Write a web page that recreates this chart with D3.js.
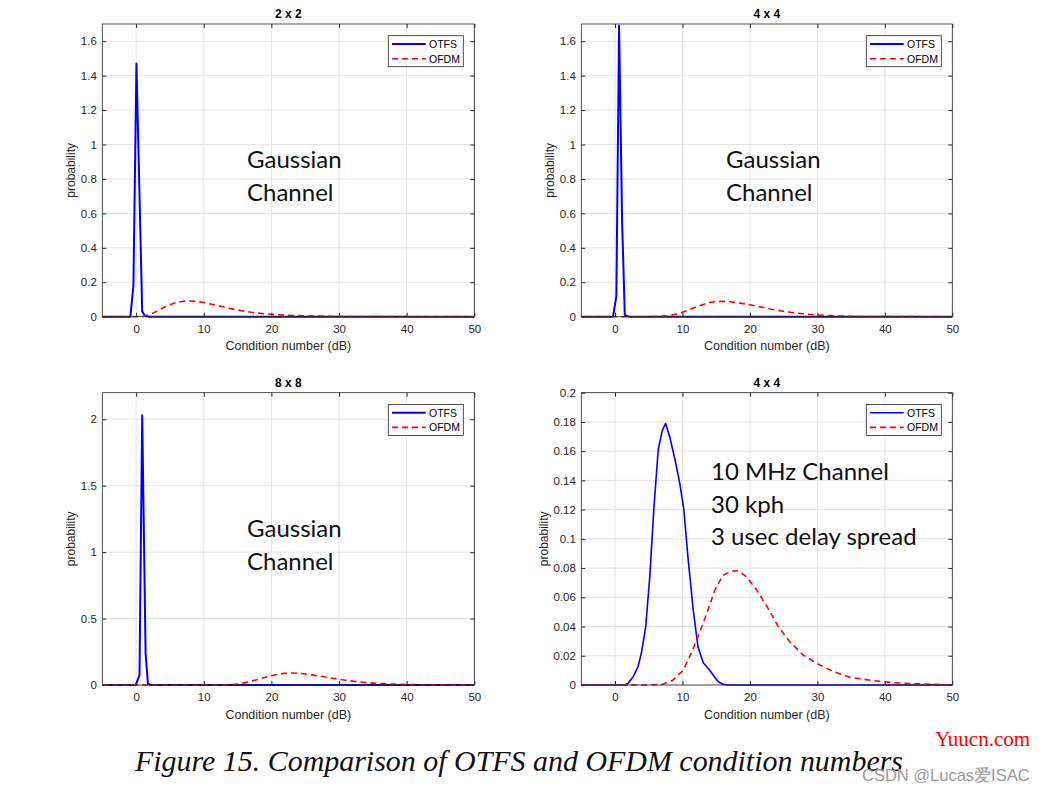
<!DOCTYPE html>
<html><head><meta charset="utf-8">
<script src="https://cdn.jsdelivr.net/npm/d3@7"></script>
<style>body{margin:0;background:#fff}svg{display:block}</style>
</head><body>
<svg id="c" width="1044" height="793"></svg>
<script>
// ---- data ----
const xTicks = [0, 10, 20, 30, 40, 50];
const panelTitles = ["2 x 2", "4 x 4", "8 x 8", "4 x 4"];
const seriesNames = ["OTFS", "OFDM"];

const otfs2x2 = [[-5,0],[-0.85,0],[-0.4,0.18],[0.05,1.47],[0.9,0.03],[1.35,0.004],[2,0],[50,0]];
const ofdm2x2 = [[-5,0],[0,0],[1,0.002],[2,0.012],[3,0.03],[4,0.052],[5,0.07],[6,0.083],[7,0.09],[8,0.091],[9,0.088],[10,0.082],[11,0.074],[12,0.065],[13,0.056],[14,0.047],[15,0.039],[16,0.032],[17,0.026],[18,0.021],[19,0.017],[20,0.014],[22,0.009],[24,0.006],[26,0.004],[28,0.0025],[30,0.0015],[35,0.0005],[40,0.0001],[50,0]];

const otfs4x4 = [[-5,0],[-0.3,0],[0.2,0.12],[0.6,1.69],[1.05,0.55],[1.45,0.01],[2,0],[50,0]];
const ofdm4x4 = [[-5,0],[5,0],[6,0.0005],[7,0.002],[8,0.006],[9,0.014],[10,0.026],[11,0.041],[12,0.056],[13,0.07],[14,0.082],[15,0.088],[16,0.089],[17,0.087],[18,0.082],[19,0.076],[20,0.069],[21,0.061],[22,0.053],[23,0.045],[24,0.038],[25,0.032],[26,0.026],[27,0.021],[28,0.017],[29,0.013],[30,0.01],[32,0.006],[34,0.003],[36,0.0015],[40,0.0003],[50,0]];

const otfs8x8 = [[-5,0],[-0.1,0],[0.1,0.02],[0.5,0.075],[0.9,2.03],[1.4,0.24],[1.75,0.01],[2.2,0],[50,0]];
const ofdm8x8 = [[-5,0],[12,0],[13,0.001],[14,0.003],[15,0.008],[16,0.016],[17,0.028],[18,0.042],[19,0.057],[20,0.07],[21,0.081],[22,0.088],[23,0.09],[24,0.088],[25,0.083],[26,0.076],[27,0.068],[28,0.06],[29,0.051],[30,0.043],[31,0.036],[32,0.029],[33,0.023],[34,0.018],[35,0.014],[36,0.011],[38,0.0065],[40,0.0038],[42,0.002],[45,0.0008],[50,0]];

const otfsMob = [[-5,0],[1.4,0],[1.9,0.001],[2.7,0.0057],[3.4,0.0125],[3.9,0.0217],[4.55,0.04],[5.15,0.074],[5.75,0.12],[6.4,0.161],[7.0,0.174],[7.5,0.179],[8.1,0.17],[8.9,0.154],[9.6,0.138],[10.2,0.12],[10.8,0.088],[11.6,0.051],[12.3,0.026],[13.1,0.015],[13.8,0.0114],[14.55,0.0068],[15.3,0.0023],[16,0.0005],[16.7,0],[50,0]];
const ofdmMob = [[-5,0],[5.1,0],[7.1,0.0005],[8.6,0.0034],[10.1,0.01],[11.3,0.0217],[12.3,0.033],[13.6,0.049],[14.8,0.065],[16,0.075],[17.3,0.078],[18.3,0.078],[19.5,0.074],[21,0.065],[22.5,0.054],[24.2,0.04],[25.9,0.0296],[27.9,0.0205],[29.9,0.0148],[32.4,0.0091],[34.9,0.0052],[38.3,0.003],[41.3,0.0016],[44.3,0.0009],[48.2,0.0003],[50,0]];

const yTicksA = [0,0.2,0.4,0.6,0.8,1,1.2,1.4,1.6];
const yTicksC = [0,0.5,1,1.5,2];
const yTicksD = [0,0.02,0.04,0.06,0.08,0.1,0.12,0.14,0.16,0.18,0.2];

const noteGauss = ["Gaussian", "Channel"];
const noteMob = ["10 MHz Channel", "30 kph", "3 usec delay spread"];
const caption = "Figure 15. Comparison of OTFS and OFDM condition numbers";

// ---- layout ----
const svg = d3.select("#c");
const axisCol = "#262626";
const panels = [
  {title: panelTitles[0], otfs: otfs2x2, ofdm: ofdm2x2, ymax: 1.7, yt: yTicksA, x0: 102.3, x1: 474.3, y0: 24, y1: 316.7, note: noteGauss, nx: 247, ny: 168, lw: 2, ylx: 71},
  {title: panelTitles[1], otfs: otfs4x4, ofdm: ofdm4x4, ymax: 1.7, yt: yTicksA, x0: 581.3, x1: 952.3, y0: 24, y1: 316.7, note: noteGauss, nx: 726, ny: 168, lw: 2, ylx: 550},
  {title: panelTitles[2], otfs: otfs8x8, ofdm: ofdm8x8, ymax: 2.2, yt: yTicksC, x0: 102.3, x1: 474.3, y0: 392.7, y1: 685, note: noteGauss, nx: 247, ny: 537, lw: 2, ylx: 71},
  {title: panelTitles[3], otfs: otfsMob, ofdm: ofdmMob, ymax: 0.2, yt: yTicksD, x0: 581.3, x1: 952.3, y0: 392.7, y1: 685, note: noteMob, nx: 711, ny: 480, lw: 1.6, ylx: 544}
];

const fmt = d => String(+d.toFixed(2));

panels.forEach(p => {
  const x = d3.scaleLinear().domain([-5, 50]).range([p.x0, p.x1]);
  const y = d3.scaleLinear().domain([0, p.ymax]).range([p.y1, p.y0]);
  const g = svg.append("g");
  const W = p.x1 - p.x0, H = p.y1 - p.y0;

  // grid
  g.append("g").selectAll("line").data(xTicks).join("line")
    .attr("x1", d => x(d)).attr("x2", d => x(d)).attr("y1", p.y0).attr("y2", p.y1)
    .attr("stroke", "#e3e3e3").attr("stroke-width", 1);
  g.append("g").selectAll("line").data(p.yt).join("line")
    .attr("y1", d => y(d)).attr("y2", d => y(d)).attr("x1", p.x0).attr("x2", p.x1)
    .attr("stroke", "#e3e3e3").attr("stroke-width", 1);

  // axes with inward ticks
  const ax = d3.axisBottom(x).tickValues(xTicks).tickSize(-4).tickPadding(8).tickFormat(d3.format("d"));
  const axT = d3.axisTop(x).tickValues(xTicks).tickSize(-4).tickFormat("");
  const ay = d3.axisLeft(y).tickValues(p.yt).tickSize(-4).tickPadding(5.5).tickFormat(fmt);
  const ayR = d3.axisRight(y).tickValues(p.yt).tickSize(-4).tickFormat("");
  const styleAxis = sel => {
    sel.selectAll(".domain").remove();
    sel.selectAll("line").attr("stroke", axisCol);
    sel.selectAll("text").attr("fill", axisCol).attr("font-size", 11.5).attr("font-family", "Liberation Sans, Arial, sans-serif");
  };
  g.append("g").attr("transform", `translate(0,${p.y1})`).call(ax).call(styleAxis);
  g.append("g").attr("transform", `translate(0,${p.y0})`).call(axT).call(styleAxis);
  g.append("g").attr("transform", `translate(${p.x0},0)`).call(ay).call(styleAxis);
  g.append("g").attr("transform", `translate(${p.x1},0)`).call(ayR).call(styleAxis);

  // lines
  const clipId = ("clip" + p.x0 + "_" + p.y0).replace(/\./g, "_");
  svg.append("clipPath").attr("id", clipId).append("rect")
    .attr("x", p.x0).attr("y", p.y0 - 2).attr("width", W).attr("height", H + 4);
  const line = d3.line().x(d => x(d[0])).y(d => y(d[1]));
  const lg = g.append("g").attr("clip-path", `url(#${clipId})`);
  lg.append("path").attr("d", line(p.otfs)).attr("fill", "none").attr("stroke", "#0000ff")
    .attr("stroke-width", p.lw).attr("stroke-linejoin", "round");
  lg.append("path").attr("d", line(p.ofdm)).attr("fill", "none").attr("stroke", "#ff0000")
    .attr("stroke-width", 1.6).attr("stroke-dasharray", "6,4");

  // box
  g.append("rect").attr("x", p.x0).attr("y", p.y0).attr("width", W).attr("height", H)
    .attr("fill", "none").attr("stroke", axisCol).attr("stroke-width", 0.8);

  // title
  g.append("text").attr("x", (p.x0 + p.x1) / 2).attr("y", p.y0 - 6).attr("text-anchor", "middle")
    .attr("font-family", "Liberation Sans, Arial, sans-serif").attr("font-weight", "bold").attr("font-size", 12)
    .attr("fill", "#000").text(p.title);
  // x label
  g.append("text").attr("x", (p.x0 + p.x1) / 2).attr("y", p.y1 + 33.5).attr("text-anchor", "middle")
    .attr("font-family", "Liberation Sans, Arial, sans-serif").attr("font-size", 12.5)
    .attr("fill", axisCol).text("Condition number (dB)");
  // y label
  g.append("text").attr("transform", `translate(${p.ylx + 4},${(p.y0 + p.y1) / 2}) rotate(-90)`).attr("text-anchor", "middle")
    .attr("font-family", "Liberation Sans, Arial, sans-serif").attr("font-size", 12)
    .attr("fill", axisCol).text("probability");

  // legend
  const lx = p.x1 - 86, ly = p.y0 + 11.7;
  g.append("rect").attr("x", lx).attr("y", ly).attr("width", 75).attr("height", 31)
    .attr("fill", "#fff").attr("stroke", axisCol).attr("stroke-width", 0.8);
  seriesNames.forEach((s, i) => {
    const yy = ly + 8.3 + i * 14.7;
    g.append("line").attr("x1", lx + 3.7).attr("x2", lx + 37.4).attr("y1", yy).attr("y2", yy)
      .attr("stroke", i === 0 ? "#0000ff" : "#ff0000").attr("stroke-width", i === 0 ? p.lw : 1.6)
      .attr("stroke-dasharray", i === 0 ? null : "6,4");
    g.append("text").attr("x", lx + 40.7).attr("y", yy + 3.8)
      .attr("font-family", "Liberation Sans, Arial, sans-serif").attr("font-size", 10.5)
      .attr("fill", "#000").text(s);
  });

  // annotation
  p.note.forEach((t, i) => {
    g.append("text").attr("x", p.nx).attr("y", p.ny + i * 32.7)
      .attr("font-family", "Lato, 'Open Sans', sans-serif").attr("font-size", 24)
      .attr("fill", "#111").text(t);
  });
});

// caption
svg.append("text").attr("x", 135).attr("y", 771)
  .attr("font-family", "Liberation Serif, 'Times New Roman', serif").attr("font-style", "italic")
  .attr("font-size", 29).attr("textLength", 768).attr("lengthAdjust", "spacingAndGlyphs")
  .attr("fill", "#111").text(caption);

// watermarks
svg.append("text").attr("x", 935).attr("y", 746)
  .attr("font-family", "Liberation Serif, serif").attr("font-size", 21).attr("fill", "#ff0000").text("Yuucn.com");
svg.append("text").attr("x", 862).attr("y", 781)
  .attr("font-family", "Liberation Sans, Arial, sans-serif").attr("font-size", 16.5).attr("fill", "#9a9a9a").text("CSDN @Lucas爱ISAC");
</script>
</body></html>
